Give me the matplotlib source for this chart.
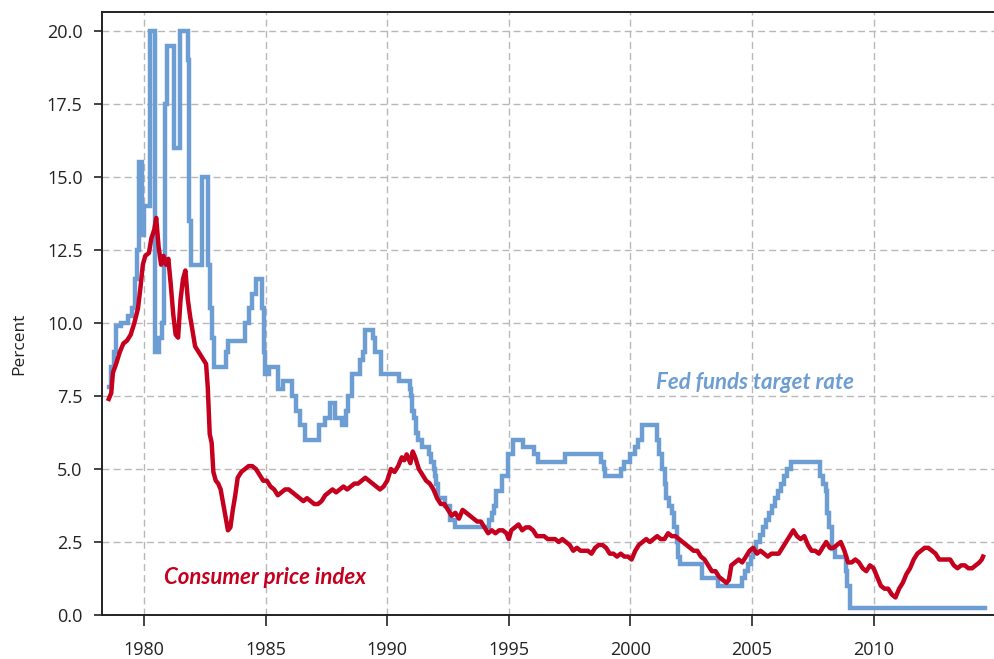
import matplotlib
from matplotlib import pyplot as plt

matplotlib.use('Agg')

# Fed funds target rate: (year, rate) at each change, drawn as steps
fed_years = [1978.55, 1978.65, 1978.75, 1978.85, 1979.05, 1979.35, 1979.5, 1979.62, 1979.72,
             1979.78, 1979.9, 1979.98, 1980.25, 1980.45, 1980.62, 1980.72, 1980.82, 1980.88,
             1980.95, 1981.25, 1981.48, 1981.8, 1981.86, 1981.92, 1982.4, 1982.63, 1982.7,
             1982.78, 1982.88, 1983.35, 1983.45, 1984.15, 1984.3, 1984.45, 1984.6, 1984.85,
             1984.92, 1984.98, 1985.12, 1985.5, 1985.7, 1986.1, 1986.25, 1986.4, 1986.6,
             1987.2, 1987.45, 1987.65, 1987.85, 1988.15, 1988.3, 1988.4, 1988.55, 1988.9,
             1989.0, 1989.1, 1989.4, 1989.5, 1989.75, 1990.5, 1990.93, 1990.97, 1991.02,
             1991.12, 1991.18, 1991.28, 1991.43, 1991.7, 1991.8, 1991.93, 1991.95, 1992.02,
             1992.07, 1992.37, 1992.6, 1992.77, 1994.2, 1994.32, 1994.38, 1994.47, 1994.72,
             1994.97, 1995.18, 1995.6, 1996.05, 1996.18, 1997.32, 1998.8, 1998.9, 1998.97,
             1999.6, 1999.73, 1999.97, 2000.18, 2000.3, 2000.48, 2001.1, 2001.18, 2001.3,
             2001.42, 2001.48, 2001.59, 2001.7, 2001.8, 2001.9, 2001.96, 2002.05, 2002.95,
             2003.59, 2004.59, 2004.7, 2004.82, 2004.95, 2005.05, 2005.18, 2005.32, 2005.45,
             2005.59, 2005.7, 2005.82, 2005.95, 2006.05, 2006.18, 2006.32, 2006.45, 2006.59,
             2007.8, 2007.9, 2008.03, 2008.1, 2008.15, 2008.3, 2008.42, 2008.85, 2008.92,
             2009.05, 2014.6]
fed_rates = [7.8, 8.5, 9.0, 9.9, 10.0, 10.25, 10.5, 11.5, 12.5,
             15.5, 13.0, 14.0, 20.0, 9.0, 9.5, 10.0, 12.0, 17.5,
             19.5, 16.0, 20.0, 19.0, 13.5, 12.0, 15.0, 12.0, 10.5,
             9.5, 8.5, 9.0, 9.4, 10.0, 10.5, 11.0, 11.5, 10.5,
             9.0, 8.25, 8.5, 7.75, 8.0, 7.5, 7.0, 6.5, 6.0,
             6.5, 6.75, 7.25, 6.75, 6.5, 7.0, 7.5, 8.25, 8.75,
             9.0, 9.75, 9.5, 9.0, 8.25, 8.0, 7.75, 7.5, 7.0,
             6.75, 6.25, 6.0, 5.75, 5.5, 5.25, 5.0, 4.75, 4.5,
             4.0, 3.75, 3.25, 3.0, 3.25, 3.5, 3.75, 4.25, 4.75,
             5.5, 6.0, 5.75, 5.5, 5.25, 5.5, 5.25, 5.0, 4.75,
             5.0, 5.25, 5.5, 5.75, 6.0, 6.5, 6.0, 5.5, 5.0,
             4.5, 4.0, 3.75, 3.5, 3.0, 2.5, 2.0, 1.75, 1.25,
             1.0, 1.25, 1.5, 1.75, 2.0, 2.25, 2.5, 2.75, 3.0,
             3.25, 3.5, 3.75, 4.0, 4.25, 4.5, 4.75, 5.0, 5.25,
             4.75, 4.5, 4.25, 3.5, 3.0, 2.25, 2.0, 1.5, 1.0,
             0.25, 0.25]

# Consumer price index, year-over-year percent change
cpi_years = [1978.55, 1978.65, 1978.72, 1978.85, 1979.0, 1979.15, 1979.3, 1979.45, 1979.6,
             1979.75, 1979.85, 1979.95, 1980.05, 1980.2, 1980.3, 1980.42, 1980.5, 1980.6,
             1980.7, 1980.8, 1980.9, 1981.0, 1981.1, 1981.2, 1981.3, 1981.4, 1981.5,
             1981.6, 1981.7, 1981.8, 1981.9, 1982.0, 1982.1, 1982.25, 1982.4, 1982.55,
             1982.62, 1982.7, 1982.78, 1982.85, 1982.95, 1983.05, 1983.15, 1983.3, 1983.45,
             1983.55, 1983.65, 1983.75, 1983.85, 1984.0, 1984.15, 1984.3, 1984.45, 1984.6,
             1984.75, 1984.9, 1985.05, 1985.2, 1985.35, 1985.5, 1985.65, 1985.8, 1985.95,
             1986.1, 1986.25, 1986.4, 1986.55, 1986.7, 1986.85, 1987.0, 1987.15, 1987.3,
             1987.45, 1987.6, 1987.75, 1987.9, 1988.05, 1988.2, 1988.35, 1988.5, 1988.65,
             1988.8, 1988.95, 1989.1, 1989.25, 1989.4, 1989.55, 1989.7, 1989.85, 1990.0,
             1990.15, 1990.3, 1990.45, 1990.6, 1990.7, 1990.8, 1990.95, 1991.05, 1991.15,
             1991.3, 1991.45, 1991.6, 1991.75, 1991.9, 1992.05, 1992.2, 1992.35, 1992.5,
             1992.65, 1992.8, 1992.95, 1993.1, 1993.25, 1993.4, 1993.55, 1993.7, 1993.85,
             1994.0, 1994.15, 1994.3, 1994.45, 1994.6, 1994.75, 1994.9, 1995.0, 1995.1,
             1995.25, 1995.4, 1995.55, 1995.7, 1995.85, 1996.0, 1996.15, 1996.3, 1996.45,
             1996.6, 1996.75, 1996.9, 1997.05, 1997.2, 1997.35, 1997.5, 1997.65, 1997.8,
             1997.95, 1998.1, 1998.25, 1998.4, 1998.55, 1998.7, 1998.85, 1999.0, 1999.15,
             1999.3, 1999.45, 1999.6, 1999.75, 1999.9, 2000.05, 2000.2, 2000.35, 2000.5,
             2000.65, 2000.8, 2000.95, 2001.1, 2001.25, 2001.4, 2001.55, 2001.7, 2001.85,
             2002.0, 2002.15, 2002.3, 2002.45, 2002.6, 2002.75, 2002.9, 2003.05, 2003.2,
             2003.35, 2003.5, 2003.65, 2003.8, 2003.95, 2004.05, 2004.15, 2004.3, 2004.45,
             2004.6, 2004.75, 2004.9, 2005.05, 2005.2, 2005.35, 2005.5, 2005.65, 2005.8,
             2005.95, 2006.1, 2006.25, 2006.4, 2006.55, 2006.7, 2006.85, 2007.0, 2007.15,
             2007.3, 2007.45, 2007.6, 2007.75, 2007.9, 2008.05, 2008.2, 2008.35, 2008.5,
             2008.65, 2008.8, 2008.95, 2009.1, 2009.25, 2009.4, 2009.55, 2009.7, 2009.85,
             2010.0, 2010.15, 2010.3, 2010.45, 2010.6, 2010.75, 2010.9, 2011.05, 2011.2,
             2011.35, 2011.5, 2011.65, 2011.8, 2011.95, 2012.1, 2012.25, 2012.4, 2012.55,
             2012.7, 2012.85, 2013.0, 2013.15, 2013.3, 2013.45, 2013.6, 2013.75, 2013.9,
             2014.05, 2014.2, 2014.35, 2014.45, 2014.5]
cpi_values = [7.4, 7.6, 8.3, 8.6, 9.0, 9.3, 9.4, 9.6, 10.0,
              10.5, 11.2, 12.0, 12.3, 12.4, 12.9, 13.2, 13.6, 12.6,
              12.0, 12.3, 12.0, 12.2, 11.3, 10.3, 9.6, 9.5, 10.8,
              11.5, 11.8, 10.8, 10.2, 9.7, 9.2, 9.0, 8.8, 8.6,
              7.8, 6.2, 5.9, 4.9, 4.6, 4.5, 4.3, 3.6, 2.9,
              3.0, 3.6, 4.1, 4.7, 4.9, 5.0, 5.1, 5.1, 5.0,
              4.8, 4.6, 4.6, 4.4, 4.3, 4.1, 4.2, 4.3, 4.3,
              4.2, 4.1, 4.0, 3.9, 4.0, 3.9, 3.8, 3.8, 3.9,
              4.1, 4.2, 4.3, 4.2, 4.3, 4.4, 4.3, 4.4, 4.5,
              4.5, 4.6, 4.7, 4.6, 4.5, 4.4, 4.3, 4.4, 4.6,
              5.0, 4.9, 5.1, 5.4, 5.3, 5.5, 5.2, 5.6, 5.4,
              5.0, 4.8, 4.6, 4.5, 4.3, 4.0, 3.8, 3.8, 3.6,
              3.4, 3.5, 3.3, 3.6, 3.5, 3.4, 3.3, 3.2, 3.2,
              3.0, 2.8, 2.9, 2.8, 2.9, 2.9, 2.8, 2.6, 2.9,
              3.0, 3.1, 2.9, 3.0, 3.0, 2.9, 2.7, 2.7, 2.7,
              2.6, 2.6, 2.6, 2.5, 2.6, 2.5, 2.4, 2.2, 2.3,
              2.2, 2.2, 2.2, 2.1, 2.3, 2.4, 2.4, 2.3, 2.1,
              2.1, 2.0, 2.1, 2.0, 2.0, 1.9, 2.2, 2.4, 2.5,
              2.6, 2.5, 2.6, 2.7, 2.6, 2.6, 2.8, 2.7, 2.7,
              2.6, 2.5, 2.4, 2.3, 2.2, 2.2, 2.0, 1.9, 1.7,
              1.5, 1.5, 1.3, 1.2, 1.1, 1.2, 1.7, 1.8, 1.9,
              1.8, 2.0, 2.2, 2.3, 2.1, 2.2, 2.1, 2.0, 2.1,
              2.1, 2.1, 2.3, 2.5, 2.7, 2.9, 2.7, 2.6, 2.7,
              2.4, 2.2, 2.2, 2.1, 2.3, 2.5, 2.3, 2.3, 2.4,
              2.5, 2.2, 1.8, 1.8, 1.9, 1.8, 1.6, 1.5, 1.7,
              1.6, 1.3, 1.0, 0.9, 0.9, 0.7, 0.6, 0.9, 1.1,
              1.4, 1.6, 1.9, 2.1, 2.2, 2.3, 2.3, 2.2, 2.1,
              1.9, 1.9, 1.9, 1.9, 1.7, 1.6, 1.7, 1.7, 1.6,
              1.6, 1.7, 1.8, 1.9, 2.0]

y_ticks = [0.0, 2.5, 5.0, 7.5, 10.0, 12.5, 15.0, 17.5, 20.0]
x_ticks = [1980, 1985, 1990, 1995, 2000, 2005, 2010]

blue = '#6c9dd3'
red = '#c4001e'

fig = plt.figure(figsize=(9.95, 6.59), dpi=100)
ax = fig.add_axes([0.1025, 0.0668, 0.905, 0.9148])

ax.plot(fed_years, fed_rates, drawstyle='steps-post', color=blue, linewidth=3.2,
        solid_joinstyle='miter', zorder=3)
ax.plot(cpi_years, cpi_values, color=red, linewidth=3.2, zorder=4)

ax.set_xlim(1978.27, 2015.3)
ax.set_ylim(0, 20.65)
ax.set_xticks(x_ticks)
ax.set_yticks(y_ticks)
ax.set_yticklabels([f'{v:.1f}' for v in y_ticks])

ax.grid(True, color='#b8b8b8', linestyle=(0, (5, 3)), linewidth=1.0)
ax.set_axisbelow(True)

for side in ['left', 'bottom', 'top']:
    ax.spines[side].set_linewidth(1.4)
    ax.spines[side].set_color('#222222')
ax.spines['right'].set_visible(False)

ax.tick_params(axis='both', direction='out', width=1.2, color='#222222',
               labelsize=13, labelcolor='#222222')
for lbl in ax.get_xticklabels() + ax.get_yticklabels():
    lbl.set_family(['Open Sans', 'DejaVu Sans'])
ax.tick_params(axis='x', length=8, pad=11)
ax.tick_params(axis='y', length=6, pad=8)

ax.set_ylabel('Percent', fontsize=12.5, family=['Open Sans', 'DejaVu Sans'], color='#222222')
ax.yaxis.set_label_coords(-0.083, 0.45)

ax.text(2001.05, 7.95, 'Fed funds target rate', color=blue, fontsize=16,
        style='italic', weight='bold', family=['Lato', 'DejaVu Sans'], va='center')
ax.text(1980.8, 1.3, 'Consumer price index', color=red, fontsize=16,
        style='italic', weight='bold', family=['Lato', 'DejaVu Sans'], va='center')

plt.savefig('out.png', format='png', dpi=100)
plt.clf()
